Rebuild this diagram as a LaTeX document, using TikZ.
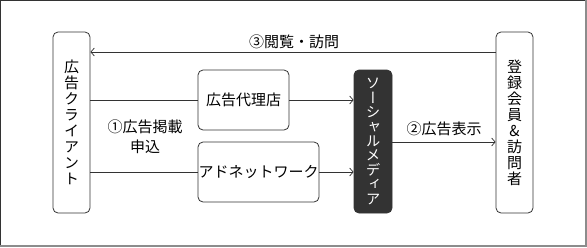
\documentclass[tikz,border=0pt]{standalone}
\usepackage{fontspec}
\usetikzlibrary{arrows.meta}
\newfontfamily\cjk{Noto Sans CJK JP}
\newfontfamily\cjkv[RawFeature={+vert}]{Noto Sans CJK JP}
\definecolor{linec}{HTML}{333333}
\definecolor{darkfill}{HTML}{333333}
\tikzset{
  box/.style={draw=linec, line width=0.8pt, rounded corners=5pt, inner sep=0pt},
  darkbox/.style={box, fill=darkfill, text=white},
  conn/.style={draw=linec, line width=0.7pt},
  arr/.style={conn, -{Straight Barb[length=3.5pt,width=8pt]}},
  lbl/.style={font=\cjk\fontsize{15}{20}\selectfont, inner sep=0pt, align=center},
  vlbl/.style={font=\cjkv\fontsize{15}{16}\selectfont, inner sep=0pt, align=center},
  vlbltight/.style={font=\cjkv\fontsize{14.5}{14.4}\selectfont, inner sep=0pt, align=center}
}
\begin{document}
\begin{tikzpicture}[x=1pt,y=-1pt]
\useasboundingbox (0,0) rectangle (587,247);
% outer frame
\draw[color=linec, line width=1.2pt] (0.6,245) -- (0.6,0.6) -- (585,0.6);
\draw[color=gray!90, line width=2pt] (585.5,0) -- (585.5,245.5) -- (0,245.5);
% nodes
\node[box, minimum width=37pt, minimum height=181pt] (client) at (71.5,122.5) {};
\node[vlbl] (clienttext) at (client) {広\\告\\ク\\ラ\\イ\\ア\\ン\\ト};
\node[box, minimum width=91pt, minimum height=60pt, lbl] (agency) at (243.5,100) {広告代理店};
\node[box, minimum width=121pt, minimum height=60pt, lbl] (adnet) at (258.5,172) {アドネットワーク};
\node[darkbox, minimum width=38pt, minimum height=143pt] (social) at (373,141.5) {};
\node[vlbltight, text=white] (socialtext) at (social) {ソ\\ー\\シ\\ャ\\ル\\メ\\デ\\ィ\\ア};
\node[box, minimum width=37pt, minimum height=181pt] (member) at (514.5,122.5) {};
\node[vlbl] (membertext) at (member) {登\\録\\会\\員\\\&\\訪\\問\\者};
% connectors
\coordinate (c1) at (client.east |- agency.west);
\coordinate (c2) at (client.east |- adnet.west);
\draw[conn] (c1) -- (agency.west);
\draw[conn] (c2) -- (adnet.west);
\draw[arr] (agency.east) -- (social.west |- agency.east);
\draw[arr] (adnet.east) -- (social.west |- adnet.east);
\coordinate (m1) at (member.west |- 0,52);
\coordinate (k1) at (client.east |- 0,52);
\draw[arr] (m1) -- (k1);
\coordinate (s2) at (social.east |- 0,142);
\coordinate (m2) at (member.west |- 0,142);
\draw[arr] (s2) -- (m2);
% labels
\node[lbl] (l3) at (294,42) {③閲覧・訪問};
\node[lbl] (l2) at (444,129) {②広告表示};
\node[lbl] (l1) at (145,137) {①広告掲載\\申込};
\end{tikzpicture}
\end{document}
